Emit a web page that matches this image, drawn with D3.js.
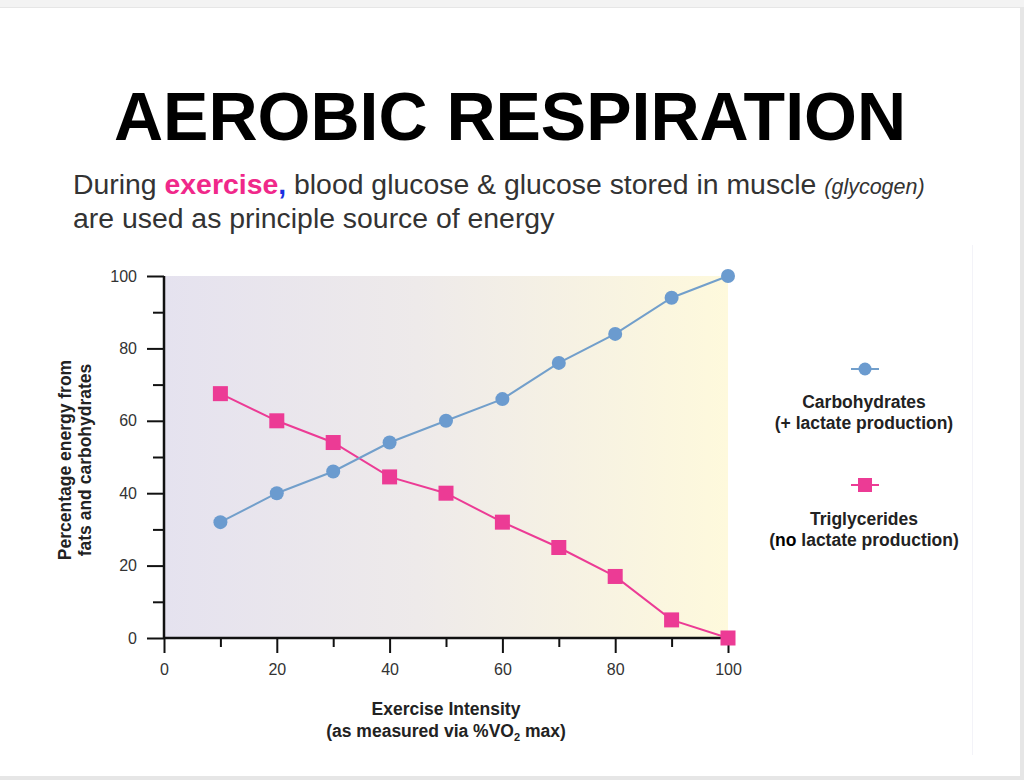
<!DOCTYPE html>
<html>
<head>
<meta charset="utf-8">
<script src="https://cdn.jsdelivr.net/npm/d3@7"></script>
<style>
  html, body { margin: 0; padding: 0; background: #ffffff; }
  svg { display: block; }
  text { font-family: "Liberation Sans", Arial, Helvetica, sans-serif; }
</style>
</head>
<body>
<svg id="chart" width="1024" height="780"></svg>
<script>
// ---- data ----
const intensity = [10, 20, 30, 40, 50, 60, 70, 80, 90, 100];
const carbohydrates = [32, 40, 46, 54, 60, 66, 76, 84, 94, 100];
const triglycerides = [67.5, 60, 54, 44.5, 40, 32, 25, 17, 5, 0];
const xTicks = [0, 20, 40, 60, 80, 100];
const yTicks = [0, 20, 40, 60, 80, 100];
const minorTicks = [10, 30, 50, 70, 90];
const seriesNames = ["Carbohydrates", "Triglycerides"];

const svg = d3.select("#chart");
const FONT = "Liberation Sans, Arial, sans-serif";

// slide frame
svg.append("rect").attr("x", 0).attr("y", 0).attr("width", 1024).attr("height", 780).attr("fill", "#e6e6e6");
svg.append("rect").attr("x", 0).attr("y", 0).attr("width", 1024).attr("height", 7).attr("fill", "#f3f3f3");
svg.append("rect").attr("x", 0).attr("y", 8).attr("width", 1020).attr("height", 768).attr("fill", "#ffffff");
// faint edge of embedded chart image
svg.append("line").attr("x1", 972.5).attr("x2", 972.5).attr("y1", 245).attr("y2", 755).attr("stroke", "#f3f3f8").attr("stroke-width", 1);

// title
svg.append("text")
  .attr("x", 510).attr("y", 140)
  .attr("text-anchor", "middle")
  .attr("font-size", 68).attr("font-weight", "bold").attr("fill", "#000")
  .text("AEROBIC RESPIRATION");

// subtitle
const sub1 = svg.append("text").attr("x", 73).attr("y", 194).attr("font-size", 28.4).attr("fill", "#333");
sub1.append("tspan").text("During ");
sub1.append("tspan").attr("font-weight", "bold").attr("fill", "#f0288a").text("exercise");
sub1.append("tspan").attr("font-weight", "bold").attr("fill", "#1a2fe0").text(",");
sub1.append("tspan").text(" blood glucose & glucose stored in muscle ");
sub1.append("tspan").attr("font-style", "italic").attr("font-size", 21.5).text("(glycogen)");
svg.append("text").attr("x", 73).attr("y", 228).attr("font-size", 28.4).attr("fill", "#333")
  .text("are used as principle source of energy");

// chart area
const x = d3.scaleLinear().domain([0, 100]).range([164, 728]);
const y = d3.scaleLinear().domain([0, 100]).range([638, 276]);

const defs = svg.append("defs");
const grad = defs.append("linearGradient").attr("id", "bg").attr("x1", "0").attr("x2", "1").attr("y1", "0").attr("y2", "0");
grad.append("stop").attr("offset", "0").attr("stop-color", "#e5e2ef");
grad.append("stop").attr("offset", "0.45").attr("stop-color", "#eeeaea");
grad.append("stop").attr("offset", "1").attr("stop-color", "#fef9dc");

svg.append("rect")
  .attr("x", x(0)).attr("y", y(100))
  .attr("width", x(100) - x(0)).attr("height", y(0) - y(100))
  .attr("fill", "url(#bg)");

// axes
const yAxis = d3.axisLeft(y).tickValues(yTicks).tickSize(17).tickPadding(10).tickFormat(d3.format("d"));
const gy = svg.append("g").attr("transform", `translate(${x(0)},0)`).call(yAxis);
gy.select(".domain").remove();
gy.selectAll(".tick line").attr("stroke", "#111").attr("stroke-width", 2);
gy.selectAll(".tick text").attr("font-size", 16).attr("fill", "#333").attr("font-family", FONT);
svg.append("g").attr("transform", `translate(${x(0)},0)`)
  .call(d3.axisLeft(y).tickValues(minorTicks).tickSize(11).tickFormat(""))
  .call(g => g.select(".domain").remove())
  .selectAll(".tick line").attr("stroke", "#111").attr("stroke-width", 2);

const xAxis = d3.axisBottom(x).tickValues(xTicks).tickSize(15).tickPadding(11).tickFormat(d3.format("d"));
const gx = svg.append("g").attr("transform", `translate(0,${y(0)})`).call(xAxis);
gx.select(".domain").remove();
gx.selectAll(".tick line").attr("stroke", "#111").attr("stroke-width", 2);
gx.selectAll(".tick text").attr("font-size", 16).attr("fill", "#333").attr("font-family", FONT);
svg.append("g").attr("transform", `translate(0,${y(0)})`)
  .call(d3.axisBottom(x).tickValues(minorTicks).tickSize(9).tickFormat(""))
  .call(g => g.select(".domain").remove())
  .selectAll(".tick line").attr("stroke", "#111").attr("stroke-width", 2);

// axis lines
svg.append("line").attr("x1", x(0)).attr("x2", x(0)).attr("y1", y(100)).attr("y2", y(0)).attr("stroke", "#111").attr("stroke-width", 2.5);
svg.append("line").attr("x1", x(0)).attr("x2", x(100)).attr("y1", y(0)).attr("y2", y(0)).attr("stroke", "#111").attr("stroke-width", 2.5);

// axis titles
const yt = svg.append("text")
  .attr("transform", `translate(0,460) rotate(-90)`)
  .attr("text-anchor", "middle").attr("font-size", 17.5).attr("font-weight", "bold").attr("fill", "#222");
yt.append("tspan").attr("x", 0).attr("y", 71).text("Percentage energy from");
yt.append("tspan").attr("x", 0).attr("y", 91).text("fats and carbohydrates");

svg.append("text").attr("x", 446).attr("y", 715).attr("text-anchor", "middle")
  .attr("font-size", 17.5).attr("font-weight", "bold").attr("fill", "#222").text("Exercise Intensity");
const xt2 = svg.append("text").attr("x", 446).attr("y", 737).attr("text-anchor", "middle").attr("font-size", 17.5).attr("font-weight", "bold").attr("fill", "#222");
xt2.append("tspan").text("(as measured via %VO");
xt2.append("tspan").attr("font-size", 11).attr("dy", 4).text("2");
xt2.append("tspan").attr("dy", -4).text(" max)");

// lines
const blue = "#6b9bcf", pink = "#ec3b95";
const carbData = intensity.map((d, i) => ({ x: d, y: carbohydrates[i] }));
const trigData = intensity.map((d, i) => ({ x: d, y: triglycerides[i] }));
const line = d3.line().x(d => x(d.x)).y(d => y(d.y));

svg.append("path").datum(trigData).attr("d", line).attr("fill", "none").attr("stroke", pink).attr("stroke-width", 2);
svg.append("path").datum(carbData).attr("d", line).attr("fill", "none").attr("stroke", "#729fcb").attr("stroke-width", 2);

svg.selectAll("rect.trig").data(trigData).join("rect").attr("class", "trig")
  .attr("x", d => x(d.x) - 7.5).attr("y", d => y(d.y) - 7.5).attr("width", 15).attr("height", 15).attr("fill", pink);
svg.selectAll("circle.carb").data(carbData).join("circle").attr("class", "carb")
  .attr("cx", d => x(d.x)).attr("cy", d => y(d.y)).attr("r", 7).attr("fill", blue);

// legend
const LS = 17.5;
const lg = svg.append("g");
lg.append("line").attr("x1", 851).attr("x2", 879).attr("y1", 369).attr("y2", 369).attr("stroke", "#729fcb").attr("stroke-width", 2);
lg.append("circle").attr("cx", 865).attr("cy", 369).attr("r", 6.5).attr("fill", blue);
lg.append("text").attr("x", 864).attr("y", 408).attr("text-anchor", "middle").attr("font-size", LS).attr("font-weight", "bold").attr("fill", "#222").text(seriesNames[0]);
lg.append("text").attr("x", 864).attr("y", 429).attr("text-anchor", "middle").attr("font-size", LS).attr("font-weight", "bold").attr("fill", "#222").text("(+ lactate production)");

lg.append("line").attr("x1", 851).attr("x2", 879).attr("y1", 485).attr("y2", 485).attr("stroke", pink).attr("stroke-width", 2);
lg.append("rect").attr("x", 858).attr("y", 478).attr("width", 14).attr("height", 14).attr("fill", pink);
lg.append("text").attr("x", 864).attr("y", 525).attr("text-anchor", "middle").attr("font-size", LS).attr("font-weight", "bold").attr("fill", "#222").text(seriesNames[1]);
const l4 = lg.append("text").attr("x", 864).attr("y", 546).attr("text-anchor", "middle").attr("font-size", LS).attr("font-weight", "bold").attr("fill", "#222");
l4.append("tspan").text("(");
l4.append("tspan").attr("fill", "#000").attr("font-weight", 900).text("no");
l4.append("tspan").text(" lactate production)");
</script>
</body>
</html>
